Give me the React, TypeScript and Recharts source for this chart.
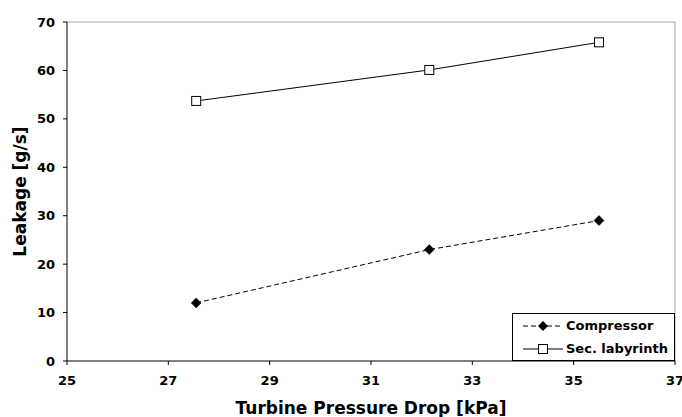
import React from "react";
import { LineChart, Line, XAxis, YAxis, ReferenceLine } from "recharts";

const pressureDrop = [27.55, 32.15, 35.5];
const compressor = [12.0, 23.0, 29.0];
const secLabyrinth = [53.7, 60.1, 65.8];
const xTicks = [25, 27, 29, 31, 33, 35, 37];
const yTicks = [0, 10, 20, 30, 40, 50, 60, 70];

const data = pressureDrop.map((x, i) => ({
  x,
  compressor: compressor[i],
  labyrinth: secLabyrinth[i],
}));

const FONT = "'DejaVu Sans', Verdana, sans-serif";

const Diamond = (props: any) => {
  const { cx, cy, index } = props;
  if (cx == null || cy == null) return <g key={`d${index}`} />;
  const r = 5;
  return (
    <path
      key={`d${index}`}
      d={`M${cx},${cy - r}L${cx + r},${cy}L${cx},${cy + r}L${cx - r},${cy}Z`}
      fill="#000"
      stroke="#000"
      strokeWidth={0.5}
    />
  );
};

const Square = (props: any) => {
  const { cx, cy, index } = props;
  if (cx == null || cy == null) return <g key={`s${index}`} />;
  const r = 4.5;
  return (
    <rect
      key={`s${index}`}
      x={cx - r}
      y={cy - r}
      width={2 * r}
      height={2 * r}
      fill="#fff"
      stroke="#000"
      strokeWidth={1}
    />
  );
};

const LegendBox = () => (
  <div
    style={{
      position: "absolute",
      left: 512,
      top: 313,
      width: 161,
      height: 46,
      border: "1px solid #000",
      background: "#fff",
      fontFamily: FONT,
      fontWeight: "bold",
      fontSize: 13,
      color: "#000",
      boxSizing: "content-box",
      lineHeight: "normal",
    }}
  >
    <div style={{ display: "flex", alignItems: "center", height: 23, paddingLeft: 9 }}>
      <svg width={42} height={12} style={{ marginRight: 2, flex: "none" }}>
        <line x1={1} y1={6} x2={41} y2={6} stroke="#000" strokeDasharray="5 3" />
        <path d="M21,1L26,6L21,11L16,6Z" fill="#000" />
      </svg>
      <span style={{ whiteSpace: "nowrap" }}>Compressor</span>
    </div>
    <div style={{ display: "flex", alignItems: "center", height: 23, paddingLeft: 9 }}>
      <svg width={42} height={12} style={{ marginRight: 2, flex: "none" }}>
        <line x1={1} y1={6} x2={41} y2={6} stroke="#000" />
        <rect x={16.5} y={1.5} width={9} height={9} fill="#fff" stroke="#000" />
      </svg>
      <span style={{ whiteSpace: "nowrap" }}>Sec. labyrinth</span>
    </div>
  </div>
);

export default function App() {
  return (
    <div style={{ position: "absolute", left: 0, top: 0, width: 682, height: 417, background: "#fff" }}>
      <LineChart
        width={682}
        height={417}
        data={data}
        margin={{ top: 22, right: 7, bottom: 0, left: 0 }}
      >
        <XAxis
          dataKey="x"
          type="number"
          domain={[25, 37]}
          ticks={xTicks}
          interval={0}
          stroke="#000"
          tickSize={4}
          tickMargin={11}
          height={56}
          tick={{ fill: "#000", fontFamily: FONT, fontWeight: "bold", fontSize: 13 }}
          label={{
            value: "Turbine Pressure Drop [kPa]",
            position: "insideBottom",
            offset: 3,
            style: { fill: "#000", fontFamily: FONT, fontWeight: "bold", fontSize: 17 },
          }}
        />
        <YAxis
          type="number"
          domain={[0, 70]}
          ticks={yTicks}
          interval={0}
          stroke="#000"
          tickSize={4}
          tickMargin={8}
          width={67}
          tick={{ fill: "#000", fontFamily: FONT, fontWeight: "bold", fontSize: 13 }}
          label={{
            value: "Leakage [g/s]",
            angle: -90,
            position: "insideLeft",
            offset: 20,
            style: { fill: "#000", fontFamily: FONT, fontWeight: "bold", fontSize: 17, textAnchor: "middle" },
          }}
        />
        <ReferenceLine y={70} stroke="#a6a6a6" strokeWidth={1} />
        <ReferenceLine x={37} stroke="#a6a6a6" strokeWidth={1} />
        <Line
          dataKey="compressor"
          stroke="#000"
          strokeWidth={1}
          strokeDasharray="5 3"
          dot={Diamond}
          activeDot={false}
          isAnimationActive={false}
        />
        <Line
          dataKey="labyrinth"
          stroke="#000"
          strokeWidth={1}
          dot={Square}
          activeDot={false}
          isAnimationActive={false}
        />
      </LineChart>
      <LegendBox />
    </div>
  );
}
